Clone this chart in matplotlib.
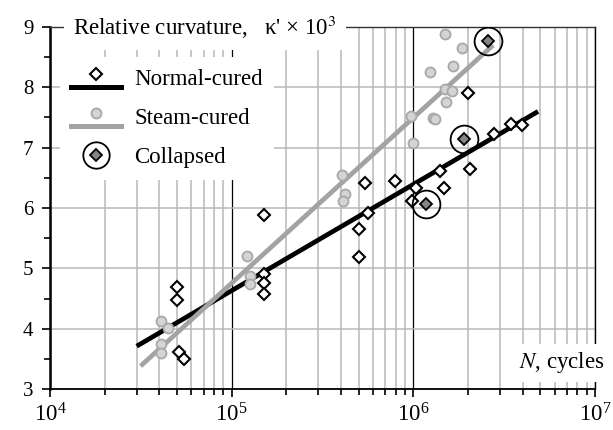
import numpy as np
import matplotlib
matplotlib.use("Agg")
import matplotlib.pyplot as plt
from matplotlib.lines import Line2D
from matplotlib.legend_handler import HandlerLine2D
from matplotlib.ticker import MultipleLocator, NullFormatter, LogLocator

plt.rcParams['font.family'] = ['Liberation Serif', 'DejaVu Serif']
plt.rcParams['mathtext.fontset'] = 'stix'

# normal-cured specimens (N, kappa' x 10^3)
normal_N = [5.0e4, 5.0e4, 5.15e4, 5.45e4, 1.5e5, 1.5e5, 1.5e5, 1.5e5,
            5.0e5, 5.0e5, 5.45e5, 5.6e5, 7.9e5, 9.8e5, 1.04e6, 1.41e6,
            1.47e6, 2.0e6, 2.05e6, 2.78e6, 3.43e6, 3.99e6]
normal_k = [4.69, 4.48, 3.61, 3.49, 5.88, 4.91, 4.76, 4.57,
            5.65, 5.19, 6.42, 5.92, 6.45, 6.12, 6.33, 6.62,
            6.33, 7.91, 6.64, 7.22, 7.39, 7.38]

# steam-cured specimens
steam_N = [4.06e4, 4.48e4, 4.06e4, 4.06e4, 1.22e5, 1.26e5, 1.26e5,
           4.03e5, 4.2e5, 4.11e5, 9.66e5, 1.0e6, 1.28e6, 1.31e6, 1.23e6,
           1.49e6, 1.66e6, 1.85e6, 1.49e6, 1.64e6, 1.52e6]
steam_k = [4.12, 4.01, 3.75, 3.59, 5.20, 4.88, 4.74,
           6.54, 6.23, 6.12, 7.53, 7.08, 7.49, 7.47, 8.26,
           8.88, 8.36, 8.65, 7.97, 7.94, 7.76]

# collapsed specimens
collapsed_N = [1.17e6, 1.9e6, 2.58e6]
collapsed_k = [6.06, 7.14, 8.76]

# regression lines (end points)
normal_fit_N = [3.0e4, 4.86e6]
normal_fit_k = [3.71, 7.60]
steam_fit_N = [3.15e4, 2.75e6]
steam_fit_k = [3.38, 8.70]

LGRAY = '#a3a3a3'
CFILL = '#d4d4d4'
CEDGE = '#a8a8a8'


class Shifted(HandlerLine2D):
    # legend handle moved up/down by dy (in font sizes)
    def __init__(self, dy, **kw):
        super().__init__(**kw)
        self.dy = dy

    def create_artists(self, legend, orig_handle, xdescent, ydescent,
                       width, height, fontsize, trans):
        arts = super().create_artists(legend, orig_handle, xdescent, ydescent,
                                      width, height, fontsize, trans)
        for a in arts:
            a.set_ydata(np.asarray(a.get_ydata()) + self.dy * fontsize)
        return arts


fig = plt.figure(figsize=(6.13, 4.3), dpi=100)
ax = fig.add_axes([0.0816, 0.0953, 0.889, 0.842])

ax.plot(normal_fit_N, normal_fit_k, color='black', lw=3.4, solid_capstyle='butt', zorder=3)
ax.plot(steam_fit_N, steam_fit_k, color=LGRAY, lw=3.4, solid_capstyle='butt', zorder=3)

ax.plot(steam_N, steam_k, ls='none', marker='o', ms=7.2, mfc=CFILL, mec=CEDGE, mew=1.3, zorder=4)
ax.plot(normal_N, normal_k, ls='none', marker='D', ms=5.8, mfc='white', mec='black', mew=1.5, zorder=5)
ax.plot(collapsed_N, collapsed_k, ls='none', marker='D', ms=5.8, mfc='#858585', mec='black', mew=1.3, zorder=6)
ax.plot(collapsed_N, collapsed_k, ls='none', marker='o', ms=20, mfc='none', mec='black', mew=1.3, zorder=6)

ax.set_xscale('log')
ax.set_xlim(1e4, 1e7)
ax.set_ylim(3, 9)
ax.xaxis.set_major_locator(LogLocator(base=10, numticks=10))
ax.xaxis.set_minor_locator(LogLocator(base=10, subs=np.arange(2, 10), numticks=20))
ax.xaxis.set_minor_formatter(NullFormatter())
ax.yaxis.set_major_locator(MultipleLocator(1))
ax.yaxis.set_minor_locator(MultipleLocator(0.5))

ax.set_axisbelow(True)
ax.grid(which='minor', axis='x', color='#b8b8b8', lw=1.1)
ax.grid(which='major', axis='x', color='black', lw=0.9)
ax.grid(which='major', axis='y', color='#b8b8b8', lw=1.1)

ax.spines['left'].set_linewidth(1.8)
ax.spines['bottom'].set_linewidth(1.3)
ax.spines['top'].set_linewidth(1.0)
ax.spines['top'].set_color('#333333')
ax.spines['right'].set_linewidth(1.0)

ax.tick_params(axis='y', which='major', direction='out', length=6, width=1.2, labelsize=15, pad=6)
ax.tick_params(axis='y', which='minor', direction='out', length=4.5, width=1.2)
ax.tick_params(axis='x', which='major', direction='out', length=5.5, width=1.2, labelsize=16.5, pad=5)
ax.tick_params(axis='x', which='minor', direction='out', length=4.5, width=1.2)

ax.text(0.043, 1.0, "Relative curvature,   κ' × 10$^{3}$", transform=ax.transAxes,
        ha='left', va='center', fontsize=16.5, zorder=10,
        bbox=dict(boxstyle='square,pad=0.4', fc='white', ec='none'))
ax.text(1.018, 0.072, "$N$, cycles", transform=ax.transAxes,
        ha='right', va='center', fontsize=16.5, zorder=10, clip_on=False,
        bbox=dict(boxstyle='square,pad=0.3', fc='white', ec='none'))

# legend handles
n_line = Line2D([], [], color='black', lw=3.6)
n_mark = Line2D([], [], ls='none', marker='D', ms=5.8, mfc='white', mec='black', mew=1.5)
s_line = Line2D([], [], color=LGRAY, lw=3.6)
s_mark = Line2D([], [], ls='none', marker='o', ms=7.2, mfc=CFILL, mec=CEDGE, mew=1.3)
c_mark = Line2D([], [], ls='none', marker='D', ms=5.8, mfc='#858585', mec='black', mew=1.3)
c_ring = Line2D([], [], ls='none', marker='o', ms=19, mfc='none', mec='black', mew=1.3)

leg = ax.legend([(n_line, n_mark), (s_line, s_mark), (c_ring, c_mark)],
                ['Normal-cured', 'Steam-cured', 'Collapsed'],
                handler_map={n_line: Shifted(-0.45), n_mark: Shifted(0.12),
                             s_line: Shifted(-0.45), s_mark: Shifted(0.14)},
                loc='upper left', bbox_to_anchor=(0.018, 0.917), borderaxespad=0,
                fontsize=16.5, numpoints=1, handlelength=2.15, handletextpad=0.6,
                labelspacing=0.8, borderpad=0.5, frameon=True, fancybox=False,
                framealpha=1, facecolor='white', edgecolor='none')
leg.set_zorder(8)

fig.savefig('out.png', dpi=100)
